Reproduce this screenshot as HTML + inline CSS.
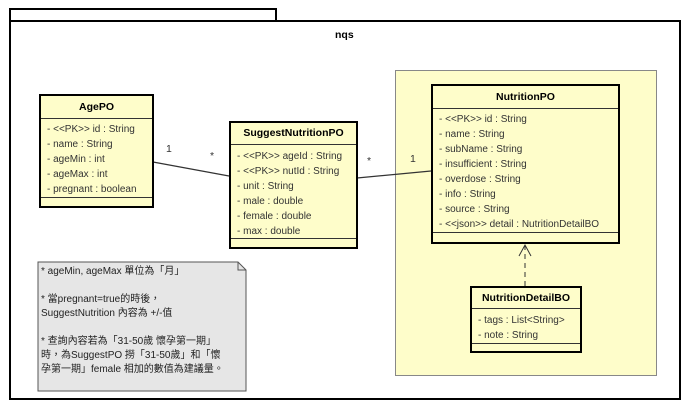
<!DOCTYPE html>
<html><head><meta charset="utf-8"><style>
body{margin:0;background:#fff;width:692px;height:411px;overflow:hidden;position:relative;font-family:"Liberation Sans","Noto Sans CJK TC",sans-serif;}
.a{position:absolute;box-sizing:border-box}
.cls{position:absolute;box-sizing:border-box;background:#fefdca;border:2px solid #000;font-size:10px;color:#333}
.cls .h{font-weight:bold;text-align:center;color:#000;border-bottom:1px solid #333;font-size:10.5px}
.cls .r{padding-left:6px;height:15px;line-height:15px;white-space:nowrap}
.cls .f{position:absolute;left:0;right:0;border-top:1px solid #333}
.t{position:absolute;font-size:10.5px;color:#333}
</style></head><body>
<div class="a" style="left:9px;top:8px;width:268px;height:14px;border:2px solid #000;border-bottom:none"></div>
<div class="a" style="left:9px;top:20px;width:672px;height:380px;border:2px solid #000"></div>
<div class="t" style="left:335px;top:29px;font-weight:bold;color:#000">nqs</div>
<div class="a" style="left:395px;top:70px;width:262px;height:306px;background:#fefdca;border:1px solid #888"></div>

<svg class="a" style="left:0;top:0" width="692" height="411">
<line x1="153" y1="162" x2="229" y2="176" stroke="#333" stroke-width="1.2"/>
<line x1="357" y1="178" x2="431" y2="171" stroke="#333" stroke-width="1.2"/>
<line x1="525" y1="245" x2="525" y2="286" stroke="#333" stroke-dasharray="5,4"/>
<polyline points="519,256 525,245 531,256" fill="none" stroke="#333"/>
<polygon points="38,262 238,262 246,270 246,391 38,391" fill="#e6e6e6" stroke="#555"/>
<polyline points="238,262 238,270 246,270" fill="none" stroke="#555"/>
</svg>
<div class="t" style="left:166px;top:143px">1</div>
<div class="t" style="left:210px;top:150px">*</div>
<div class="t" style="left:367px;top:155px">*</div>
<div class="t" style="left:410px;top:153px">1</div>

<div class="cls" style="left:39px;top:94px;width:115px;height:114px">
<div class="h" style="height:22px;line-height:22px">AgePO</div>
<div style="height:3px"></div>
<div class="r">- &lt;&lt;PK&gt;&gt; id : String</div><div class="r">- name : String</div><div class="r">- ageMin : int</div><div class="r">- ageMax : int</div><div class="r">- pregnant : boolean</div>
<div class="f" style="top:101px"></div></div>

<div class="cls" style="left:229px;top:121px;width:129px;height:128px">
<div class="h" style="height:21px;line-height:21px">SuggestNutritionPO</div>
<div style="height:4px"></div>
<div class="r">- &lt;&lt;PK&gt;&gt; ageId : String</div><div class="r">- &lt;&lt;PK&gt;&gt; nutId : String</div><div class="r">- unit : String</div><div class="r">- male : double</div><div class="r">- female : double</div><div class="r">- max : double</div>
<div class="f" style="top:115px"></div></div>

<div class="cls" style="left:431px;top:84px;width:189px;height:160px">
<div class="h" style="height:22px;line-height:22px">NutritionPO</div>
<div style="height:3px"></div>
<div class="r">- &lt;&lt;PK&gt;&gt; id : String</div><div class="r">- name : String</div><div class="r">- subName : String</div><div class="r">- insufficient : String</div><div class="r">- overdose : String</div><div class="r">- info : String</div><div class="r">- source : String</div><div class="r">- &lt;&lt;json&gt;&gt; detail : NutritionDetailBO</div>
<div class="f" style="top:146px"></div></div>

<div class="cls" style="left:470px;top:286px;width:112px;height:67px">
<div class="h" style="height:20px;line-height:20px">NutritionDetailBO</div>
<div style="height:4px"></div>
<div class="r">- tags : List&lt;String&gt;</div><div class="r">- note : String</div>
<div class="f" style="top:55px"></div></div>

<div class="t" style="left:41px;top:265px;font-size:10px;line-height:14px;color:#222;white-space:nowrap">
* ageMin, ageMax 單位為「月」<br><br>
* 當pregnant=true的時後，<br>SuggestNutrition 內容為 +/-值<br><br>
* 查詢內容若為「31-50歲 懷孕第一期」<br>時，為SuggestPO 撈「31-50歲」和「懷<br>孕第一期」female 相加的數值為建議量。
</div>
</body></html>
